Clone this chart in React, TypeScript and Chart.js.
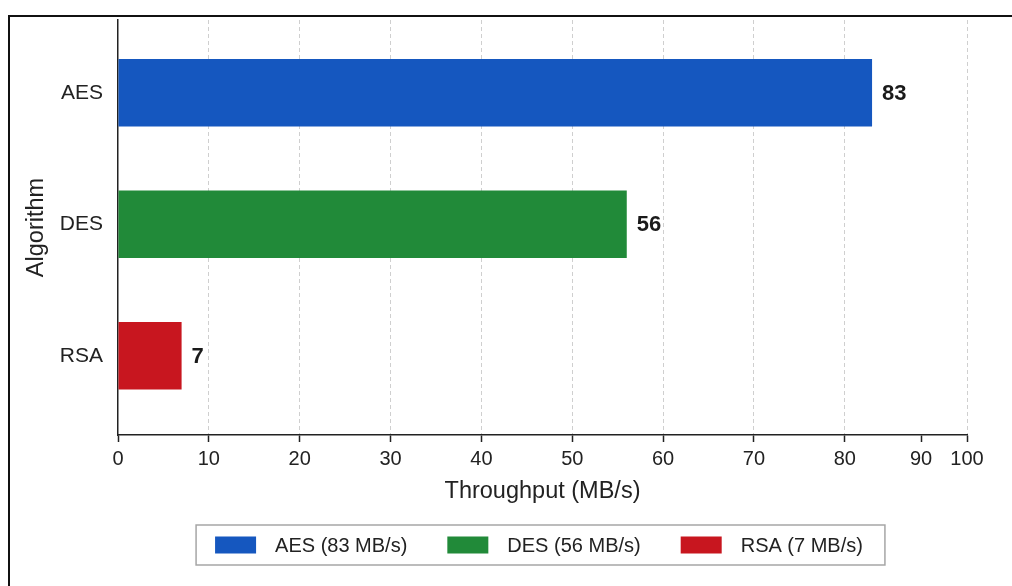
import React, { useEffect, useRef } from 'react';
import { Chart, registerables } from 'chart.js';

Chart.register(...registerables);

// ---- data ----
const algorithms = ['AES', 'DES', 'RSA'];
const throughput = [83, 56, 7];
const barColors = ['#1557BF', '#218A39', '#C8161F'];
const legendLabels = ['AES (83 MB/s)', 'DES (56 MB/s)', 'RSA (7 MB/s)'];
const xTickValues = [0, 10, 20, 30, 40, 50, 60, 70, 80, 88.4, 93.45];
const xTickLabels = ['0', '10', '20', '30', '40', '50', '60', '70', '80', '90', '100'];
const xMin = 0;
const xMax = 93.45;
const yMin = -0.554;
const yMax = 2.602;
const xTitle = 'Throughput (MB/s)';
const yTitle = 'Algorithm';

const FONT = '"Liberation Sans", Arial, Helvetica, sans-serif';
const TEXT = '#222222';

const valueLabels = {
  id: 'valueLabels',
  afterDatasetsDraw(chart: any) {
    const { ctx } = chart;
    const meta = chart.getDatasetMeta(0);
    ctx.save();
    ctx.font = `bold 22px ${FONT}`;
    ctx.fillStyle = '#1a1a1a';
    ctx.textAlign = 'left';
    ctx.textBaseline = 'middle';
    meta.data.forEach((el: any, i: number) => {
      ctx.fillText(String(throughput[i]), el.x + 10, el.y + 1);
    });
    ctx.restore();
  },
};

const boxedLegend = {
  id: 'boxedLegend',
  afterDraw(chart: any) {
    const { ctx, chartArea } = chart;
    const xs = chart.scales.x;
    ctx.save();
    ctx.font = `20px ${FONT}`;
    const sw = 41, sh = 17, gapText = 19, gapItem = 40, padL = 19, padR = 22, h = 40;
    const widths = legendLabels.map((t) => ctx.measureText(t).width);
    const content =
      widths.reduce((s, w) => s + sw + gapText + w, 0) + gapItem * (legendLabels.length - 1);
    const boxW = content + padL + padR;
    const cx = (chartArea.left + chartArea.right) / 2 - 2;
    const left = cx - boxW / 2;
    const top = xs.bottom + 15;
    ctx.fillStyle = '#ffffff';
    ctx.fillRect(left, top, boxW, h);
    ctx.strokeStyle = '#a6a6a6';
    ctx.lineWidth = 1.5;
    ctx.strokeRect(left, top, boxW, h);
    let x = left + padL;
    const cy = top + h / 2;
    legendLabels.forEach((t, i) => {
      ctx.fillStyle = barColors[i];
      ctx.fillRect(x, cy - sh / 2, sw, sh);
      x += sw + gapText;
      ctx.fillStyle = TEXT;
      ctx.textBaseline = 'middle';
      ctx.textAlign = 'left';
      ctx.fillText(t, x, cy + 1);
      x += widths[i] + gapItem;
    });
    ctx.restore();
  },
};

export default function App() {
  const canvasRef = useRef<HTMLCanvasElement | null>(null);

  useEffect(() => {
    if (!canvasRef.current) return;
    Chart.defaults.font.family = FONT;
    const chart = new Chart(canvasRef.current, {
      type: 'bar',
      data: {
        datasets: [
          {
            label: 'Throughput',
            data: algorithms.map((_, i) => ({ x: throughput[i], y: i })) as any,
            backgroundColor: barColors,
            borderWidth: 0,
            categoryPercentage: 1,
            barPercentage: 0.513,
          },
        ],
      },
      options: {
        indexAxis: 'y',
        responsive: false,
        animation: false,
        devicePixelRatio: 1,
        layout: { padding: { top: 3, right: 45, bottom: 76, left: 0 } },
        plugins: {
          legend: { display: false },
          tooltip: { enabled: false },
        },
        scales: {
          x: {
            type: 'linear',
            position: 'bottom',
            min: xMin,
            max: xMax,
            offset: false,
            afterBuildTicks: (s: any) => {
              s.ticks = xTickValues.map((v) => ({ value: v }));
            },
            afterFit: (s: any) => {
              s.height = 75;
            },
            ticks: {
              callback: (_v: any, i: number) => xTickLabels[i],
              font: { size: 20, family: FONT },
              color: TEXT,
              padding: 5,
              maxRotation: 0,
              autoSkip: false,
            },
            grid: {
              color: (c: any) => (c.index === 0 || c.index === 9 ? 'rgba(0,0,0,0)' : '#cfcfcf'),
              lineWidth: 1,
              tickLength: 7,
              tickColor: '#222222',
              tickWidth: 1.5,
              tickBorderDash: [],
              offset: false,
            },
            border: { display: true, color: '#222222', width: 1.5, dash: [4, 3] },
            title: {
              display: true,
              text: xTitle,
              font: { size: 23.5, family: FONT },
              color: TEXT,
              padding: { top: 7, bottom: 4 },
            },
          } as any,
          y: {
            type: 'linear',
            position: 'left',
            reverse: true,
            min: yMin,
            max: yMax,
            offset: false,
            afterBuildTicks: (s: any) => {
              s.ticks = algorithms.map((_, i) => ({ value: i }));
            },
            afterFit: (s: any) => {
              s.width = 108;
              s.paddingTop = 0;
              s.paddingBottom = 0;
            },
            ticks: {
              callback: (_v: any, i: number) => algorithms[i],
              font: { size: 21, family: FONT },
              color: TEXT,
              padding: 15,
              autoSkip: false,
            },
            grid: { display: false, drawTicks: false, tickLength: 0, offset: false },
            border: { display: true, color: '#222222', width: 1.5 },
            title: {
              display: true,
              text: yTitle,
              font: { size: 23.5, family: FONT },
              color: TEXT,
              padding: { top: 12, bottom: 0 },
            },
          } as any,
        },
      },
      plugins: [valueLabels, boxedLegend],
    });
    return () => chart.destroy();
  }, []);

  return (
    <div
      style={{
        position: 'fixed',
        left: 8,
        top: 15,
        right: 0,
        bottom: 0,
        borderTop: '2px solid #111',
        borderLeft: '2px solid #111',
        background: '#ffffff',
        overflow: 'hidden',
      }}
    >
      <canvas ref={canvasRef} width={1002} height={569} style={{ display: 'block' }} />
    </div>
  );
}
